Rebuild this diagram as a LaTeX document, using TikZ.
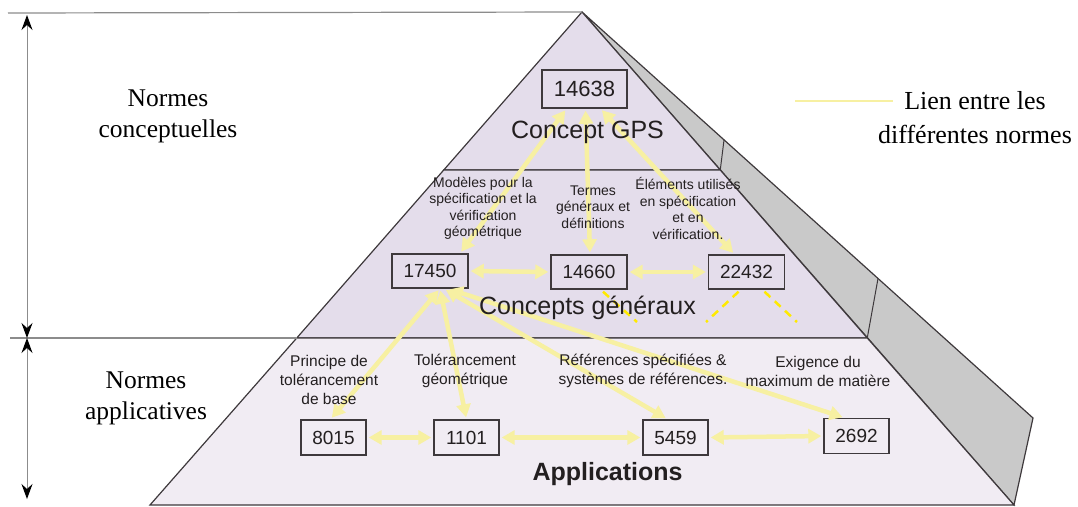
\documentclass[tikz,border=0pt]{standalone}
\usepackage{fontspec}
\setmainfont{Liberation Serif}
\setsansfont{Liberation Sans}
\usepackage{xcolor}
\definecolor{vizFace}{HTML}{E4DDEB}
\definecolor{vizBase}{HTML}{F1ECF3}
\definecolor{vizSide}{HTML}{C9C9C9}
\definecolor{vizEdge}{HTML}{3E393C}
\definecolor{vizText}{HTML}{231F20}
\definecolor{vizLink}{HTML}{F7F0A2}
\definecolor{vizDash}{HTML}{FFEA00}
\definecolor{vizRule}{HTML}{8C8C8C}
\usetikzlibrary{arrows.meta}

\tikzset{
  normbox/.style={draw=vizEdge, line width=1.4pt, text=vizText, inner sep=0pt,
    font=\sffamily\fontsize{19}{19}\selectfont, minimum width=76pt, minimum height=34pt},
  tiertitle/.style={text=vizText, inner sep=0pt, font=\sffamily\fontsize{25}{25}\selectfont},
  midtext/.style={text=vizText, inner sep=0pt, align=center,
    font=\sffamily\fontsize{14}{16.5}\selectfont},
  lowtext/.style={text=vizText, inner sep=0pt, align=center,
    font=\sffamily\fontsize{15.5}{19}\selectfont},
  sidetext/.style={text=black, inner sep=0pt, align=center,
    font=\rmfamily\fontsize{25.5}{31}\selectfont},
  link/.style={vizLink, line width=4.5pt, shorten <=2pt, shorten >=2pt,
    arrows={Triangle[length=13pt,width=14pt]-Triangle[length=13pt,width=14pt]}},
  hint/.style={vizDash, line width=2.5pt, dash pattern=on 8pt off 6pt},
  dimline/.style={vizRule, line width=1pt,
    arrows={Stealth[length=15pt,width=11pt,inset=5pt,black]-Stealth[length=15pt,width=11pt,inset=5pt,black]}},
  guide/.style={vizRule, line width=1.2pt}
}

\begin{document}
\begin{tikzpicture}[x=1pt, y=-1pt]
  \useasboundingbox (0,0) rectangle (1078,506);
  \filldraw[fill=vizSide, draw=vizEdge, line width=1.2pt] (582,12) -- (1033,418) -- (1014,505) -- cycle;
  \draw[vizEdge, line width=1pt] (720.25,170) -- (724,140);
  \draw[vizEdge, line width=1pt] (867.25,338) -- (878,278.5);
  \filldraw[fill=vizFace, draw=vizEdge, line width=1.2pt] (582,12) -- (720.25,170) -- (443.75,170) -- cycle;
  \filldraw[fill=vizFace, draw=vizEdge, line width=1.2pt] (443.75,170) -- (720.25,170) -- (867.25,338) -- (296.75,338) -- cycle;
  \filldraw[fill=vizBase, draw=vizEdge, line width=1.2pt] (296.75,338) -- (867.25,338) -- (1014,505) -- (150,505) -- cycle;
  \draw[guide] (8,13) -- (582,12);
  \draw[guide] (10,338) -- (296.75,338);
  \draw[dimline] (27,15) -- (27,338);
  \draw[dimline] (27,338) -- (27,499);

  \node[normbox, minimum width=85pt, minimum height=38pt, font=\sffamily\fontsize{22}{22}\selectfont] (n14638) at (584.5,89) {14638};
  \node[normbox] (n17450) at (430,271) {17450};
  \node[normbox] (n14660) at (589,272) {14660};
  \node[normbox] (n22432) at (746.5,272) {22432};
  \node[normbox, minimum width=65pt, minimum height=35pt] (n8015) at (333.5,437.5) {8015};
  \node[normbox, minimum width=65pt, minimum height=35pt] (n1101) at (466.5,437.5) {1101};
  \node[normbox, minimum width=65pt, minimum height=35pt] (n5459) at (675.5,437.5) {5459};
  \node[normbox, minimum width=65pt, minimum height=35pt] (n2692) at (856.5,436) {2692};

  \draw[link] ([xshift=-18pt]n14638.south) -- ([xshift=30pt]n17450.north);
  \draw[link] ([xshift=1pt]n14638.south) -- ([xshift=1pt]n14660.north);
  \draw[link] ([xshift=16pt]n14638.south) -- ([xshift=-12pt]n22432.north);
  \draw[link] (n17450.east) -- (n14660.west);
  \draw[link] (n14660.east) -- (n22432.west);
  \draw[link] ([xshift=10pt]n17450.south) -- ([xshift=-3pt]n8015.north);
  \draw[link] ([xshift=10pt]n17450.south) -- (n1101.north);
  \draw[link] ([xshift=14pt]n17450.south) -- ([xshift=-8pt]n5459.north);
  \draw[link] ([xshift=18pt]n17450.south) -- ([xshift=-12pt]n2692.north);
  \draw[link] (n8015.east) -- (n1101.west);
  \draw[link] (n1101.east) -- (n5459.west);
  \draw[link] (n5459.east) -- (n2692.west);

  \coordinate (d1) at (637,322);
  \coordinate (d2) at (706,322);
  \coordinate (d3) at (797,322);
  \draw[hint] ([xshift=14pt,yshift=-2pt]n14660.south) -- (d1);
  \draw[hint] ([xshift=-8pt,yshift=-2pt]n22432.south) -- (d2);
  \draw[hint] ([xshift=18pt,yshift=-2pt]n22432.south) -- (d3);

  \node[tiertitle] (tGps) at (587.5,132) {Concept GPS};
  \node[tiertitle] (tGeneraux) at (587.5,308) {Concepts généraux};
  \node[tiertitle, font=\sffamily\bfseries\fontsize{25}{25}\selectfont] (tApplis) at (607.5,474) {Applications};

  \node[midtext] (tModeles) at (483,208.5) {Modèles pour la\\spécification et la\\vérification\\géométrique};
  \node[midtext] (tTermes) at (593,207) {Termes\\généraux et\\définitions};
  \node[midtext] (tElements) at (688,208.5) {Éléments utilisés\\en spécification\\et en\\vérification.};

  \node[lowtext] (tPrincipe) at (329,380) {Principe de\\tolérancement\\de base};
  \node[lowtext] (tTolerance) at (465,370.5) {Tolérancement\\géométrique};
  \node[lowtext] (tReferences) at (643,371) {Références spécifiées \&\\systèmes de références.};
  \node[lowtext] (tExigence) at (818,371) {Exigence du\\maximum de matière};

  \node[sidetext] (tConcept) at (168,116) {Normes\\conceptuelles};
  \node[sidetext] (tApplic) at (146,398) {Normes\\applicatives};

  \coordinate (l1) at (795,101);
  \coordinate (l2) at (893,101);
  \draw[vizLink, line width=2pt] (l1) -- (l2);
  \node[sidetext, font=\rmfamily\fontsize{26}{34}\selectfont] (tLegend) at (975,118) {Lien entre les\\différentes normes};
\end{tikzpicture}
\end{document}
